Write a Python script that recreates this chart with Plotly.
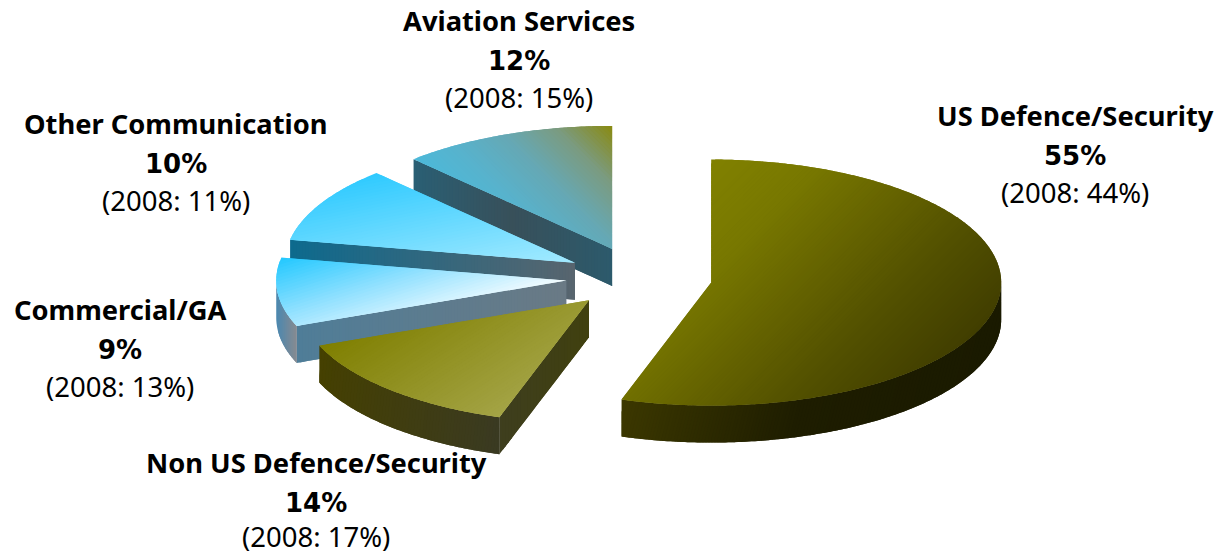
import math
import plotly.graph_objects as go

# Revenue split, clockwise from twelve o'clock
categories = ["US Defence/Security", "Non US Defence/Security", "Commercial/GA",
              "Other Communication", "Aviation Services"]
share_2009 = [55, 14, 9, 10, 12]
share_2008 = [44, 17, 13, 11, 15]

# Pie projection in pixel units
CX, CY = 639, 277.7
RX, RY = 290, 123
DEPTH = 37
PULL = 0.252

# Gradient definitions per slice: direction vector and colour stops
top_style = [
    ((0.7, 0.7), ["#818100", "#787800", "#656300", "#514f00", "#413e00"]),
    ((0.55, 0.83), ["#7f7f00", "#a4a446"]),
    ((0.3, 0.95), ["#22c8ff", "#8fe0ff", "#f4fcff"]),
    ((0.2, 0.98), ["#2fcaff", "#a4eaff"]),
    ((0.7, -0.7), ["#4cb9da", "#58b2cc", "#66a8b4", "#7b9b80", "#8a8a10"]),
]
rim_style = [
    ((1, 0.25), ["#3c3800", "#1e1d00", "#1a1a00"]),
    ((1, 0.1), ["#454000", "#3a3a22"]),
    ((1, 0), ["#4a88b0", "#878a90"]),
    None,
    None,
]
cut_style = [
    None,
    ((1, 0), ["#3e3e1e", "#40400f"]),
    ((1, 0), ["#4f7d98", "#6a7a85"]),
    ((1, 0), ["#0d6a8e", "#58656e"]),
    ((1, 0), ["#2a5f74", "#38505a", "#2c5a6c"]),
]

LABEL_POS = [(1075, 116), (316, 463), (120, 310), (176, 124), (519, 21)]
LINE_GAP = 38
ROW_NUDGE = [-1, 2, 0]
LOWEST_LINE = 536  # keeps the last caption line inside the page
NAME_FONT = dict(family="Noto Sans", size=27.3, color="#000000")
PCT_FONT = dict(family="DejaVu Sans", size=26, color="#000000")
PRIOR_FONT = dict(family="Noto Sans", size=27.5, color="#000000")


def hex_rgb(value):
    return tuple(int(value[i:i + 2], 16) for i in (1, 3, 5))


def mix(stops, t):
    t = max(0.0, min(1.0, t)) * (len(stops) - 1)
    i = min(int(t), len(stops) - 2)
    a, b = hex_rgb(stops[i]), hex_rgb(stops[i + 1])
    f = t - i
    return "rgb(%d,%d,%d)" % tuple(round(a[k] + (b[k] - a[k]) * f) for k in range(3))


def clip(poly, d, limit, keep_above):
    """Clip a polygon against the half-plane dot(p, d) >= limit (or <=)."""
    out = []
    sign = 1 if keep_above else -1
    for i, p in enumerate(poly):
        q = poly[(i + 1) % len(poly)]
        sp = sign * (p[0] * d[0] + p[1] * d[1] - limit)
        sq = sign * (q[0] * d[0] + q[1] * d[1] - limit)
        if sp >= 0:
            out.append(p)
        if (sp >= 0) != (sq >= 0):
            f = sp / (sp - sq)
            out.append((p[0] + (q[0] - p[0]) * f, p[1] + (q[1] - p[1]) * f))
    return out


def shaded_face(fig, poly, style):
    """Paint a polygon as overlapping bands that follow a linear gradient."""
    d, stops = style
    n = math.hypot(*d)
    d = (d[0] / n, d[1] / n)
    ts = [p[0] * d[0] + p[1] * d[1] for p in poly]
    lo, hi = min(ts), max(ts)
    bands = max(10, int((hi - lo) / 3))
    step = (hi - lo) / bands
    for b in range(bands):
        part = clip(poly, d, lo + b * step, True)
        part = clip(part, d, lo + (b + 2) * step, False) if part else part
        if len(part) < 3:
            continue
        fig.add_trace(go.Scatter(
            x=[p[0] for p in part] + [part[0][0]],
            y=[p[1] for p in part] + [part[0][1]],
            mode="none", fill="toself",
            fillcolor=mix(stops, (b + 0.5) / bands),
            hoverinfo="skip", showlegend=False,
        ))


def rim_point(ox, oy, deg, drop=0):
    r = math.radians(deg)
    return (ox + RX * math.sin(r), oy - RY * math.cos(r) + drop)


def arc(ox, oy, a, b, drop=0):
    steps = max(2, int(abs(b - a) * 1.5))
    return [rim_point(ox, oy, a + (b - a) * i / steps, drop) for i in range(steps + 1)]


fig = go.Figure()

# Turn the shares into clockwise sweep angles
total = sum(share_2009)
spans = []
start = 0.0
for value in share_2009:
    end = start + 360.0 * value / total
    spans.append((start, end))
    start = end

# Back slices first so nearer ones cover them
for idx in reversed(range(len(categories))):
    a1, a2 = spans[idx]
    mid = math.radians((a1 + a2) / 2)
    ox = CX + PULL * RX * math.sin(mid)
    oy = CY - PULL * RY * math.cos(mid)

    if cut_style[idx] and 180 < a1 < 360:
        rim = rim_point(ox, oy, a1)
        shaded_face(fig, [(ox, oy), rim, (rim[0], rim[1] + DEPTH), (ox, oy + DEPTH)], cut_style[idx])

    lo, hi = max(a1, 90), min(a2, 270)
    if rim_style[idx] and lo < hi:
        shaded_face(fig, arc(ox, oy, lo, hi) + arc(ox, oy, hi, lo, DEPTH), rim_style[idx])

    shaded_face(fig, [(ox, oy)] + arc(ox, oy, a1, a2), top_style[idx])

# Three-line caption for every slice
for name, now, before, (lx, ly) in zip(categories, share_2009, share_2008, LABEL_POS):
    lines = [(f"<b>{name}</b>", NAME_FONT), (f"<b>{now}%</b>", PCT_FONT),
             (f"(2008: {before}%)", PRIOR_FONT)]
    for row, (text, font) in enumerate(lines):
        fig.add_annotation(
            x=lx, y=min(ly + row * LINE_GAP + ROW_NUDGE[row], LOWEST_LINE),
            text=text, showarrow=False,
            xanchor="center", yanchor="middle", font=font,
        )

fig.update_layout(
    width=1220, height=555,
    margin=dict(l=0, r=0, t=0, b=0),
    paper_bgcolor="white", plot_bgcolor="white",
    xaxis=dict(range=[0, 1220], visible=False, fixedrange=True),
    yaxis=dict(range=[555, 0], visible=False, fixedrange=True),
    showlegend=False,
)

fig.write_html("out.html")
